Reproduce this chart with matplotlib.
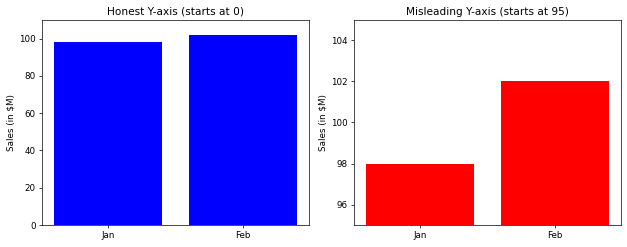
import matplotlib.pyplot as plt

months = ['Jan', 'Feb']
sales = [98, 102]

fig = plt.figure(figsize=(10, 3.94), dpi=62.7)

ax1 = fig.add_subplot(121)
ax1.bar(months, sales, color='blue')
ax1.set_ylim(0, 110)
ax1.set_title('Honest Y-axis (starts at 0)')
ax1.set_ylabel('Sales (in $M)')

ax2 = fig.add_subplot(122)
ax2.bar(months, sales, color='red')
ax2.set_ylim(95, 105)
ax2.set_title('Misleading Y-axis (starts at 95)')
ax2.set_ylabel('Sales (in $M)')

plt.subplots_adjust(left=0.067, right=0.99, top=0.919, bottom=0.089, wspace=0.168)
plt.savefig('out.png', dpi=62.7)
